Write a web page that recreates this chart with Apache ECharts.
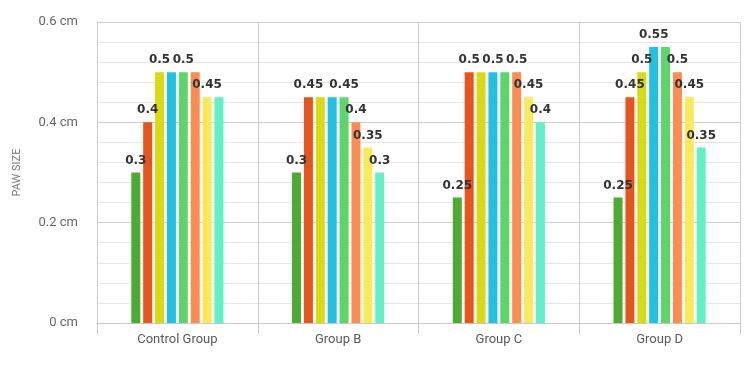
<!DOCTYPE html>
<html><head><meta charset="utf-8">
<script src="https://cdn.jsdelivr.net/npm/echarts@6/dist/echarts.min.js"></script>
<style>html,body{margin:0;padding:0;background:#fff}#c{width:750px;height:375px}</style>
</head><body><div id="c"></div>
<script>
const categories = ['Control Group', 'Group B', 'Group C', 'Group D'];
const seriesNames = ['S1', 'S2', 'S3', 'S4', 'S5', 'S6', 'S7', 'S8'];
const s1 = [0.3, 0.3, 0.25, 0.25];
const s2 = [0.4, 0.45, 0.5, 0.45];
const s3 = [0.5, 0.45, 0.5, 0.5];
const s4 = [0.5, 0.45, 0.5, 0.55];
const s5 = [0.5, 0.45, 0.5, 0.55];
const s6 = [0.5, 0.4, 0.5, 0.5];
const s7 = [0.45, 0.35, 0.45, 0.45];
const s8 = [0.45, 0.3, 0.4, 0.35];
const yTicks = [0, 0.2, 0.4, 0.6];
// which value labels are visible (others hidden by overlap in the original)
const labelShown = [
  [1, 1, 1, 1],
  [1, 1, 1, 1],
  [1, 0, 0, 1],
  [0, 0, 1, 1],
  [1, 1, 0, 0],
  [0, 1, 1, 1],
  [1, 1, 1, 1],
  [0, 1, 1, 1]
];
const allSeries = [s1, s2, s3, s4, s5, s6, s7, s8];
const colors = ['#4cab33', '#e8541e', '#d9da12', '#22c0e2', '#5cd66a', '#fc8d52', '#fbe95c', '#62f0c6'];

const chart = echarts.init(document.getElementById('c'), null, {renderer: 'canvas'});
chart.setOption({
  animation: false,
  color: colors,
  grid: {left: 97, right: 10, top: 22, bottom: 52},
  xAxis: {
    type: 'category',
    data: categories,
    axisLine: {show: true, lineStyle: {color: '#c8c8c8', width: 1}},
    axisTick: {show: true, length: 11, lineStyle: {color: '#c8c8c8'}},
    axisLabel: {color: '#5a5a5a', fontSize: 13, fontFamily: 'Roboto', margin: 10},
    splitLine: {show: true, lineStyle: {color: '#cccccc', width: 1}}
  },
  yAxis: {
    type: 'value',
    min: yTicks[0], max: yTicks[yTicks.length - 1], interval: 0.2,
    name: 'PAW SIZE',
    nameLocation: 'middle',
    nameGap: 74,
    nameTextStyle: {color: '#777', fontSize: 11, fontFamily: 'Roboto'},
    axisLine: {show: false},
    axisTick: {show: false},
    axisLabel: {color: '#666', fontSize: 13, fontFamily: 'Roboto', margin: 19,
      formatter: v => (Math.round(v * 10) / 10) + ' cm'},
    splitLine: {show: true, lineStyle: {color: '#cfcfcf', width: 1}},
    minorTick: {show: false, splitNumber: 5},
    minorSplitLine: {show: true, lineStyle: {color: '#e6e6e6', width: 1}}
  },
  series: allSeries.map((arr, i) => ({
    name: seriesNames[i],
    type: 'bar',
    barWidth: 9,
    barGap: '32%',
    data: arr.map((v, j) => ({
      value: v,
      label: {show: !!labelShown[i][j]}
    })),
    label: {
      position: 'top',
      distance: 6,
      color: '#333',
      fontSize: 12,
      fontWeight: 'bold',
      fontFamily: 'DejaVu Sans'
    }
  }))
});
</script></body></html>
